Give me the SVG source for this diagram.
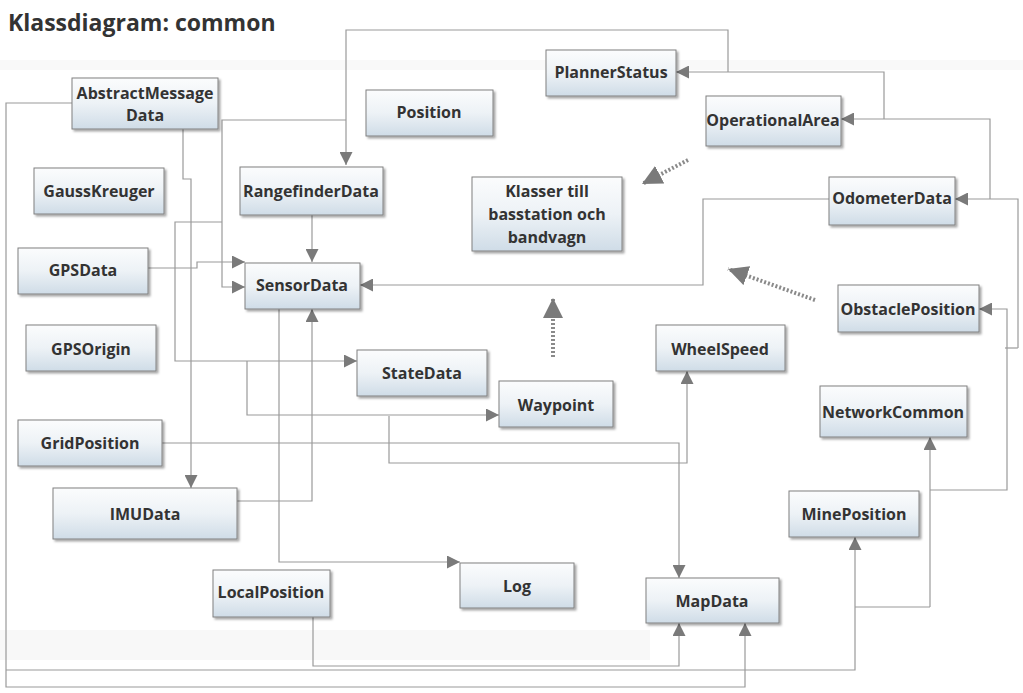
<svg xmlns="http://www.w3.org/2000/svg" width="1023" height="693" viewBox="0 0 1023 693">
<defs>
<linearGradient id="g" x1="0" y1="0" x2="0" y2="1"><stop offset="0" stop-color="#fbfcfd"/><stop offset="0.5" stop-color="#edf2f6"/><stop offset="1" stop-color="#cfdce7"/></linearGradient>
<filter id="sh" x="-10%" y="-10%" width="130%" height="140%"><feDropShadow dx="2" dy="2" stdDeviation="1.2" flood-color="#000" flood-opacity="0.35"/></filter>
<marker id="a" viewBox="0 0 10 10" refX="10" refY="5" markerWidth="13" markerHeight="13" markerUnits="userSpaceOnUse" orient="auto"><path d="M0,0 L10,5 L0,10 z" fill="#7a7a7a"/></marker>
<marker id="b" viewBox="0 0 10 10" refX="10" refY="5" markerWidth="20" markerHeight="20" markerUnits="userSpaceOnUse" orient="auto"><path d="M0,0 L10,5 L0,10 z" fill="#7a7a7a"/></marker>
</defs>
<style>
.n rect{fill:url(#g);stroke:#808080;stroke-width:1;filter:url(#sh)}
.n text{font-family:"Open Sans","Noto Sans",sans-serif;font-weight:bold;font-size:16px;fill:#333;text-anchor:middle}
.c path{fill:none;stroke:#9a9a9a;stroke-width:1.2}
.c .ar{marker-end:url(#a)}
.d path{fill:none;stroke:#8a8a8a;stroke-width:4;stroke-dasharray:2 2;marker-end:url(#b)}
</style>
<rect width="1023" height="693" fill="#fff"/>
<rect x="0" y="60" width="1023" height="10" fill="#f9f9f9"/>
<rect x="0" y="630" width="650" height="30" fill="#f8f8f8"/>
<text x="8" y="31" font-family="'Open Sans','Noto Sans',sans-serif" font-weight="bold" font-size="23" fill="#333">Klassdiagram: common</text>
<g class="c">
<path d="M72,103 H6 V687 H745 V623" class="ar"/>
<path d="M6,670 H855 V537" class="ar"/>
<path d="M183,129 V179 H191 V488" class="ar"/>
<path d="M728,72 V30 H346 V165" class="ar"/>
<path d="M346,120 H222 V287 H245" class="ar"/>
<path d="M884,119 V72 H676" class="ar"/>
<path d="M990,199 V119 H841" class="ar"/>
<path d="M1018,348 V199 H955" class="ar"/>
<path d="M1018,348 H1005"/>
<path d="M930,490 H1007 V309 H979" class="ar"/>
<path d="M930,607 V437" class="ar"/>
<path d="M855,607 H930"/>
<path d="M830,199 H703 V285 H360" class="ar"/>
<path d="M148,268 H197 V262 H245" class="ar"/>
<path d="M312,215 V262" class="ar"/>
<path d="M222,222 H175 V361 H357" class="ar"/>
<path d="M247,361 V415 H499" class="ar"/>
<path d="M237,501 H312 V309" class="ar"/>
<path d="M279,309 V562 H460" class="ar"/>
<path d="M162,443 H679 V578" class="ar"/>
<path d="M389,416 V463 H687 V371" class="ar"/>
<path d="M313,617 V666 H679 V623" class="ar"/>
</g>
<g class="d">
<path d="M688,160 L642,184"/>
<path d="M815,300 L728,269"/>
<path d="M553,357 L553,298"/>
</g>
<g class="n" id="AbstractMessageData"><rect x="72" y="78" width="146" height="51"/><text x="145" y="99">AbstractMessage</text><text x="145" y="121">Data</text></g>
<g class="n" id="Position"><rect x="366" y="90" width="127" height="46"/><text x="429" y="118">Position</text></g>
<g class="n" id="PlannerStatus"><rect x="546" y="50" width="130" height="46"/><text x="611" y="78">PlannerStatus</text></g>
<g class="n" id="OperationalArea"><rect x="706" y="96" width="135" height="50"/><text x="773" y="126">OperationalArea</text></g>
<g class="n" id="GaussKreuger"><rect x="34" y="168" width="130" height="46"/><text x="99" y="197">GaussKreuger</text></g>
<g class="n" id="RangefinderData"><rect x="240" y="167" width="143" height="48"/><text x="311" y="197">RangefinderData</text></g>
<g class="n" id="Klasser"><rect x="472" y="177" width="150" height="74"/><text x="547" y="197">Klasser till</text><text x="547" y="220">basstation och</text><text x="547" y="243">bandvagn</text></g>
<g class="n" id="OdometerData"><rect x="829" y="177" width="126" height="48"/><text x="892" y="204">OdometerData</text></g>
<g class="n" id="GPSData"><rect x="18" y="248" width="130" height="46"/><text x="83" y="276">GPSData</text></g>
<g class="n" id="SensorData"><rect x="245" y="263" width="115" height="46"/><text x="302" y="291">SensorData</text></g>
<g class="n" id="ObstaclePosition"><rect x="838" y="285" width="141" height="47"/><text x="908" y="315">ObstaclePosition</text></g>
<g class="n" id="GPSOrigin"><rect x="26" y="325" width="130" height="46"/><text x="91" y="355">GPSOrigin</text></g>
<g class="n" id="WheelSpeed"><rect x="656" y="325" width="129" height="46"/><text x="720" y="355">WheelSpeed</text></g>
<g class="n" id="StateData"><rect x="357" y="350" width="130" height="46"/><text x="422" y="379">StateData</text></g>
<g class="n" id="Waypoint"><rect x="499" y="381" width="114" height="46"/><text x="556" y="411">Waypoint</text></g>
<g class="n" id="NetworkCommon"><rect x="820" y="386" width="147" height="51"/><text x="893" y="418">NetworkCommon</text></g>
<g class="n" id="GridPosition"><rect x="18" y="420" width="144" height="46"/><text x="90" y="449">GridPosition</text></g>
<g class="n" id="IMUData"><rect x="53" y="488" width="184" height="51"/><text x="145" y="520">IMUData</text></g>
<g class="n" id="MinePosition"><rect x="789" y="491" width="130" height="46"/><text x="854" y="520">MinePosition</text></g>
<g class="n" id="LocalPosition"><rect x="213" y="570" width="117" height="47"/><text x="271" y="598">LocalPosition</text></g>
<g class="n" id="Log"><rect x="460" y="563" width="114" height="45"/><text x="517" y="592">Log</text></g>
<g class="n" id="MapData"><rect x="646" y="578" width="133" height="45"/><text x="712" y="607">MapData</text></g>
</svg>
